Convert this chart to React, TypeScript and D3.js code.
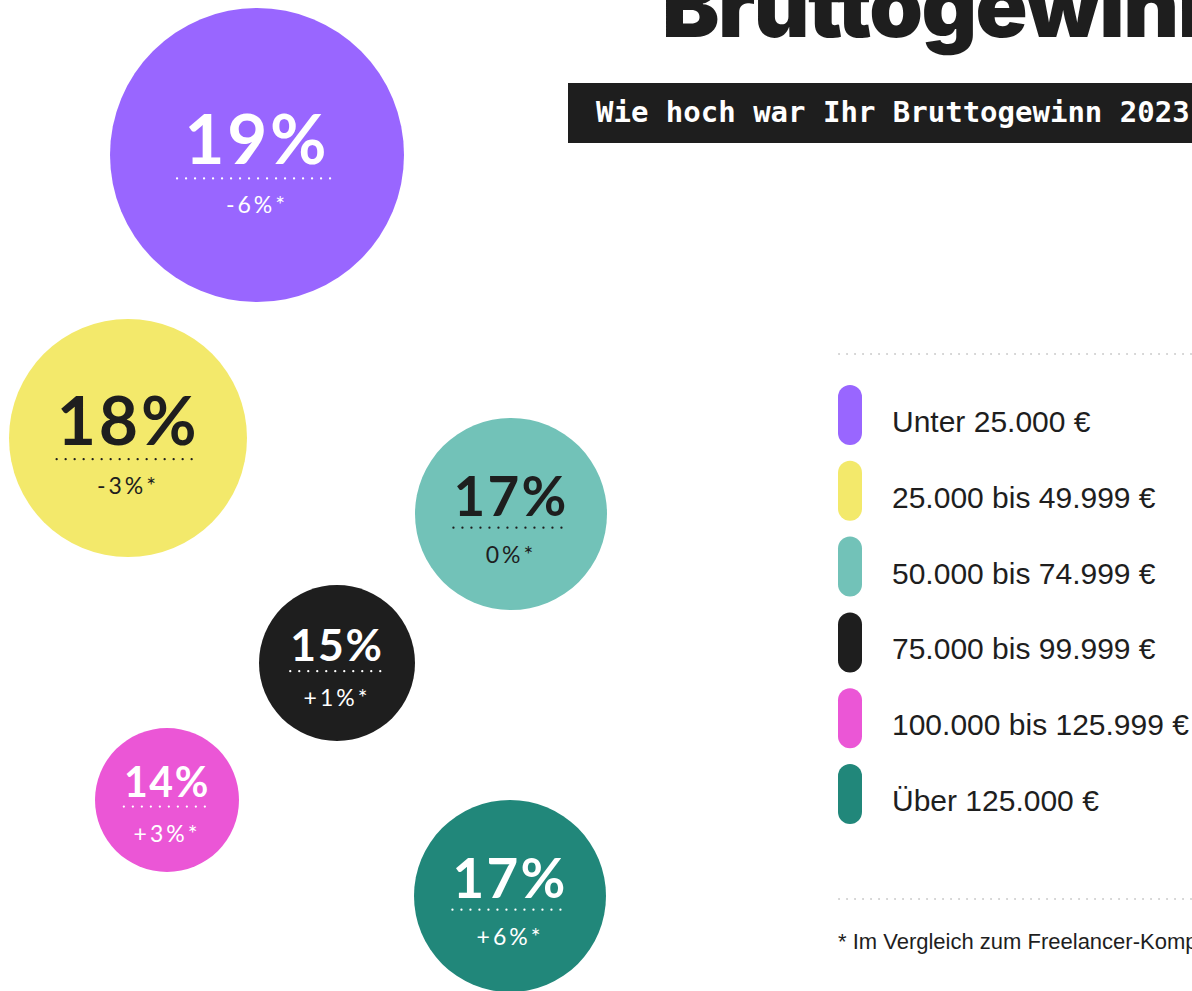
import React, { useEffect, useRef } from "react";
import * as d3 from "d3";

// ---- data ----
const categories = [
  "Unter 25.000 €",
  "25.000 bis 49.999 €",
  "50.000 bis 74.999 €",
  "75.000 bis 99.999 €",
  "100.000 bis 125.999 €",
  "Über 125.000 €",
];
const shares = [19, 18, 17, 15, 14, 17]; // %
const changes = ["-6%*", "-3%*", "0%*", "+1%*", "+3%*", "+6%*"];
const colors = ["#9966ff", "#f3e96b", "#72c2b8", "#1e1e1e", "#eb56d6", "#21877a"];
const darkText = [false, true, true, false, false, false];

const title = "Bruttogewinn";
const subtitle = "Wie hoch war Ihr Bruttogewinn 2023?";
const footnote = "* Im Vergleich zum Freelancer-Kompass";

// ---- layout (positions of the bubbles) ----
const bubbleCenters: [number, number][] = [
  [257, 155],
  [128, 438],
  [511, 514],
  [337, 663],
  [167, 800],
  [510, 896],
];

const W = 1192;
const H = 991;

export default function App() {
  const ref = useRef<SVGSVGElement | null>(null);

  useEffect(() => {
    const svg = d3.select(ref.current);
    svg.selectAll("*").remove();

    const rScale = d3
      .scaleLinear()
      .domain([14, 15, 17, 18, 19])
      .range([72, 78, 96, 119, 147]);

    const data = categories.map((c, i) => ({
      cat: c,
      share: shares[i],
      change: changes[i],
      color: colors[i],
      dark: darkText[i],
      cx: bubbleCenters[i][0],
      cy: bubbleCenters[i][1],
    }));

    // Title
    svg
      .append("text")
      .attr("x", 662)
      .attr("y", 37)
      .attr("font-family", "Inter, 'Noto Sans', sans-serif")
      .attr("font-weight", 900)
      .attr("font-size", 86)
      .attr("letter-spacing", -1.5)
      .attr("fill", "#1e1e1e")
      .text(title);

    // Subtitle bar
    svg
      .append("rect")
      .attr("x", 568)
      .attr("y", 83)
      .attr("width", W - 568 + 40)
      .attr("height", 60)
      .attr("fill", "#1e1e1e");
    svg
      .append("text")
      .attr("x", 596)
      .attr("y", 122)
      .attr("font-family", "'DejaVu Sans Mono', monospace")
      .attr("font-weight", 700)
      .attr("font-size", 29)
      .attr("fill", "#ffffff")
      .text(subtitle);

    // Bubbles
    const g = svg.append("g");
    const bubble = g
      .selectAll("g.bubble")
      .data(data)
      .join("g")
      .attr("class", "bubble")
      .attr("transform", (d) => `translate(${d.cx},${d.cy})`);

    bubble
      .append("circle")
      .attr("r", (d) => rScale(d.share))
      .attr("fill", (d) => d.color);

    bubble.each(function (d) {
      const gg = d3.select(this);
      const r = rScale(d.share);
      const fs = Math.min(0.57 * r, 69);
      const cap = 0.72 * fs;
      const gap1 = Math.max(10, 0.21 * fs);
      const gap2 = 35;
      const blockH = cap + gap1 + gap2;
      const top = -blockH / 2 + 0.06 * r;
      const baseBig = top + cap;
      const dotY = baseBig + gap1;
      const subBase = dotY + gap2;
      const fill = d.dark ? "#1e1e1e" : "#ffffff";
      const lw = Math.min(160, 1.2 * r);

      gg.append("text")
        .attr("x", 0)
        .attr("y", baseBig)
        .attr("text-anchor", "middle")
        .attr("font-family", "Lato, sans-serif")
        .attr("font-weight", 700)
        .attr("font-size", fs)
        .attr("letter-spacing", fs * 0.04)
        .attr("fill", fill)
        .text(`${d.share}%`);

      gg.append("line")
        .attr("x1", -lw / 2)
        .attr("x2", lw / 2)
        .attr("y1", dotY)
        .attr("y2", dotY)
        .attr("stroke", fill)
        .attr("stroke-width", 2.2)
        .attr("stroke-linecap", "round")
        .attr("stroke-dasharray", "0.1 8.9");

      gg.append("text")
        .attr("x", 0)
        .attr("y", subBase)
        .attr("text-anchor", "middle")
        .attr("font-family", "Lato, sans-serif")
        .attr("font-weight", 400)
        .attr("font-size", 23)
        .attr("letter-spacing", 3)
        .attr("fill", fill)
        .text(d.change);
    });

    // Legend
    const legendX = 838;
    const yScale = d3.scalePoint<string>().domain(categories).range([415, 794]);

    const dotted = (y: number) =>
      svg
        .append("line")
        .attr("x1", legendX + 1)
        .attr("x2", W)
        .attr("y1", y)
        .attr("y2", y)
        .attr("stroke", "#cfcfcf")
        .attr("stroke-width", 2)
        .attr("stroke-linecap", "round")
        .attr("stroke-dasharray", "0.1 7.9");
    dotted(354);
    dotted(899);

    const leg = svg
      .selectAll("g.leg")
      .data(data)
      .join("g")
      .attr("class", "leg")
      .attr("transform", (d) => `translate(${legendX},${yScale(d.cat)})`);

    leg
      .append("rect")
      .attr("x", 0)
      .attr("y", -30)
      .attr("width", 24)
      .attr("height", 60)
      .attr("rx", 12)
      .attr("fill", (d) => d.color);

    leg
      .append("text")
      .attr("x", 54)
      .attr("y", 17)
      .attr("font-family", "'Liberation Sans', Arial, sans-serif")
      .attr("font-size", 30)
      .attr("fill", "#1e1e1e")
      .text((d) => d.cat);

    svg
      .append("text")
      .attr("x", legendX)
      .attr("y", 949)
      .attr("font-family", "'Liberation Sans', Arial, sans-serif")
      .attr("font-size", 22)
      .attr("fill", "#1e1e1e")
      .text(footnote);
  }, []);

  return (
    <svg
      ref={ref}
      width={W}
      height={H}
      style={{ position: "absolute", left: 0, top: 0, display: "block", background: "#ffffff" }}
    />
  );
}
